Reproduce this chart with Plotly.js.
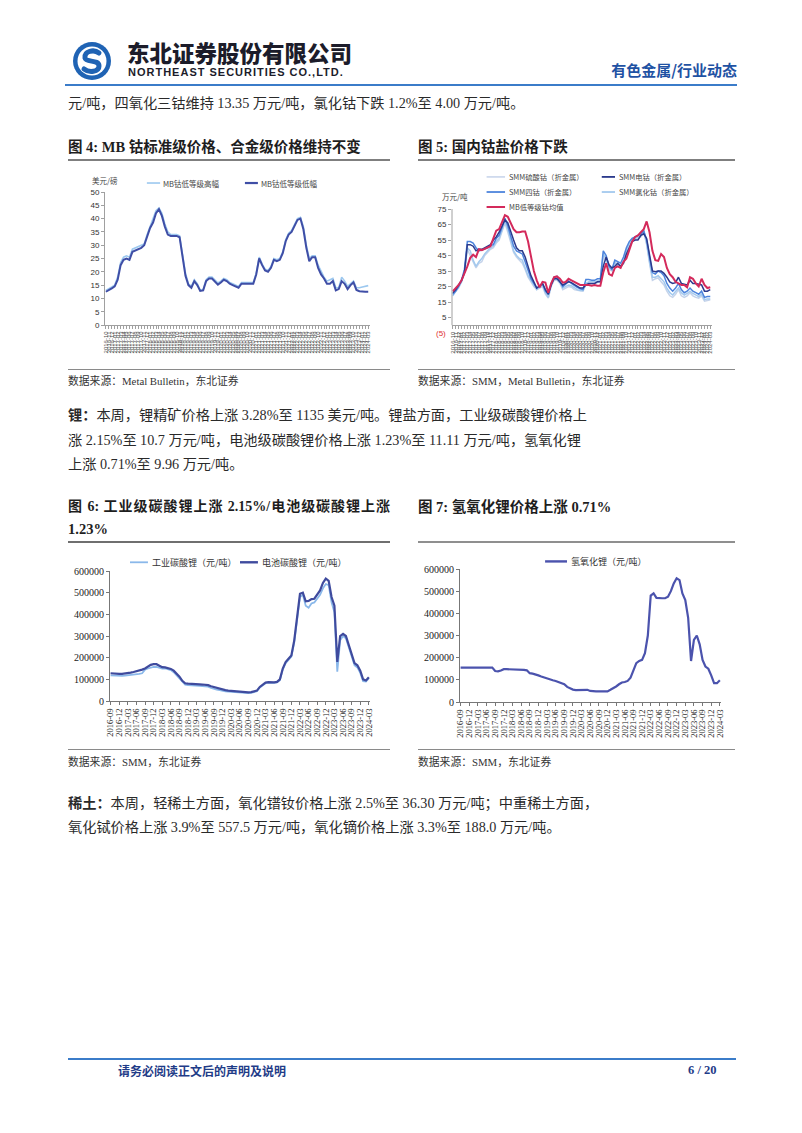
<!DOCTYPE html>
<html><head><meta charset="utf-8">
<script src="https://cdn.plot.ly/plotly-3.0.1.min.js"></script>
<style>
body{margin:0;background:#fff;}
#page{position:relative;width:802px;height:1133px;overflow:hidden;background:#fff;font-family:"Liberation Serif","Noto Sans CJK SC",serif;color:#2a2a2a;}
.t{position:absolute;white-space:nowrap;}
.rule{position:absolute;}
.para{font-size:14.2px;line-height:18px;}
.ftitle{font-size:14.5px;line-height:18px;font-weight:bold;color:#1e1e1e;}
.src{font-size:10.8px;line-height:14px;color:#333;}
.chart{position:absolute;}
</style></head>
<body><div id="page">

<svg class="t" style="left:72px;top:41px" width="40" height="40" viewBox="0 0 40 40">
  <circle cx="20" cy="20" r="19" fill="#1f63b4"/>
  <circle cx="20" cy="20" r="14.5" fill="#ffffff"/>
  <path d="M27 12 C22 8,12 10,13 17 C14 22,27 18,27 25 C27 31,17 32,12 28" stroke="#1f63b4" stroke-width="5" fill="none" stroke-linecap="round"/>
</svg>
<div class="t" style="left:127px;top:40px;font-family:'Noto Sans CJK SC';font-weight:900;font-size:22.5px;line-height:24px;color:#1c1c2a;">东北证券股份有限公司</div>
<div class="t" style="left:128px;top:66px;font-family:'Liberation Sans';font-weight:bold;font-size:11px;line-height:12px;letter-spacing:1px;color:#1c1c2a;">NORTHEAST SECURITIES CO.,LTD.</div>
<div class="t" style="right:65px;top:61px;font-family:'Noto Sans CJK SC';font-weight:bold;font-size:15px;line-height:18px;color:#1f52a3;">有色金属/行业动态</div>
<div class="rule" style="left:65px;top:84px;width:672px;height:2px;background:#3b7cc9;"></div>

<div class="t para" style="left:68px;top:94px;">元/吨，四氧化三钴维持 13.35 万元/吨，氯化钴下跌 1.2%至 4.00 万元/吨。</div>

<div class="t ftitle" style="left:68px;top:138px;">图 4:  MB 钴标准级价格、合金级价格维持不变</div>
<div class="t ftitle" style="left:418px;top:138px;">图 5:  国内钴盐价格下跌</div>
<div class="rule" style="left:68px;top:159px;width:322px;height:2px;background:#7f7f7f;"></div>
<div class="rule" style="left:418px;top:159px;width:317px;height:2px;background:#7f7f7f;"></div>

<div id="c4" class="chart" style="left:68px;top:162px;width:322px;height:206px;"></div>
<div id="c5" class="chart" style="left:418px;top:162px;width:317px;height:206px;"></div>

<div class="rule" style="left:68px;top:369px;width:322px;height:1px;background:#8a8a8a;"></div>
<div class="rule" style="left:418px;top:369px;width:317px;height:1px;background:#8a8a8a;"></div>
<div class="t src" style="left:68px;top:374px;">数据来源：Metal Bulletin，东北证券</div>
<div class="t src" style="left:418px;top:374px;">数据来源：SMM，Metal Bulletin，东北证券</div>

<div class="t para" style="left:68px;top:406px;"><b>锂：</b>本周，锂精矿价格上涨 3.28%至 1135 美元/吨。锂盐方面，工业级碳酸锂价格上</div>
<div class="t para" style="left:68px;top:431px;">涨 2.15%至 10.7 万元/吨，电池级碳酸锂价格上涨 1.23%至 11.11 万元/吨，氢氧化锂</div>
<div class="t para" style="left:68px;top:455px;">上涨 0.71%至 9.96 万元/吨。</div>

<div class="t ftitle" style="left:68px;top:498px;width:322px;text-align:justify;text-align-last:justify;font-size:14px;">图 6: 工业级碳酸锂上涨 2.15%/电池级碳酸锂上涨</div>
<div class="t ftitle" style="left:68px;top:520px;">1.23%</div>
<div class="t ftitle" style="left:418px;top:498px;">图 7:  氢氧化锂价格上涨 0.71%</div>
<div class="rule" style="left:68px;top:541px;width:322px;height:2px;background:#6f6f6f;"></div>
<div class="rule" style="left:418px;top:541px;width:317px;height:2px;background:#8f8f8f;"></div>

<div id="c6" class="chart" style="left:68px;top:543px;width:322px;height:205px;"></div>
<div id="c7" class="chart" style="left:418px;top:543px;width:317px;height:205px;"></div>

<div class="rule" style="left:68px;top:749px;width:322px;height:1px;background:#8a8a8a;"></div>
<div class="rule" style="left:418px;top:749px;width:317px;height:1px;background:#8a8a8a;"></div>
<div class="t src" style="left:68px;top:755px;">数据来源：SMM，东北证券</div>
<div class="t src" style="left:418px;top:755px;">数据来源：SMM，东北证券</div>

<div class="t para" style="left:68px;top:794px;"><b>稀土：</b>本周，轻稀土方面，氧化镨钕价格上涨 2.5%至 36.30 万元/吨；中重稀土方面，</div>
<div class="t para" style="left:68px;top:818px;">氧化铽价格上涨 3.9%至 557.5 万元/吨，氧化镝价格上涨 3.3%至 188.0 万元/吨。</div>

<div class="rule" style="left:68px;top:1058px;width:668px;height:2px;background:#3b7cc9;"></div>
<div class="t" style="left:118px;top:1063px;font-family:'Noto Sans CJK SC';font-weight:bold;font-size:12px;line-height:15px;color:#1f3c88;">请务必阅读正文后的声明及说明</div>
<div class="t" style="left:688px;top:1063px;font-family:'Liberation Serif';font-weight:bold;font-size:12.5px;line-height:15px;color:#1f3c88;">6 / 20</div>

</div>
<script>
// ---------- data ----------
function monthLabels(y, m, n){ var out=[]; for(var i=0;i<n;i++){ out.push(y+'-'+(m<10?'0'+m:m)); m++; if(m>12){m=1;y++;} } return out; }
var cobaltMonths = monthLabels(2016,10,90);
var lithiumMonths = monthLabels(2016,9,91);
var lithiumTickIdx = [];
for (var k=0;k<lithiumMonths.length;k+=3) lithiumTickIdx.push(lithiumMonths[k]);

// Fig 4: MB cobalt (USD/lb)
var mbHigh = [13,13.5,14.3,15,18,23.5,25.5,26,25.5,28.5, 29,29.5,30,30.5,34,37,39.5,43,44,42,
  38,35,34,34,34,33.5,26,19.5,15.5,14.5, 17,15.5,13,13.3,17,18,18,17,15.8,16.5,
  17.5,17,16,15.5,15,14.5,16,16,16.2,16, 16,19.5,25.5,23,21,20.5,22,25,24.5,25,
  27.5,32,34.5,35.5,38,40,40.5,37,30,25, 26,26,22.5,20,18,16.5,17,17.5,14,14,
  18,16.5,14.5,15.5,16.5,14,14,14.3,14.7,14.8];
var mbLow = [12.5,13,13.8,14.5,17,22.5,24.5,25,24.5,27.5, 28,28.5,29,30,33,36.5,38.5,42,43.5,41,
  37,34,33.5,33.5,33.5,33,25,18.5,15,14, 16.5,15,12.8,13,16.5,17.5,17.5,16.5,15.2,16,
  17,16.5,15.5,15,14.5,14,15.5,15.5,15.7,15.5, 15.5,19,25,22.5,20.5,20,21.5,24.5,24,24.5,
  27,31.5,34,35,37.5,39.5,40,36,29,24, 25.5,25.5,21.5,19,17.5,15.5,15.5,16.5,13,13.5,
  16.5,15.5,13.5,15,16,13.2,12.7,12.5,12.5,12.5];

// Fig 5: domestic cobalt salts (10k CNY/t, metal content)
var cobaltSulfate = [20,22,24,28,35,49,45,40,37,40, 41,45,47,49,50,53,55,60,66,60,
  53,47,44,42,40,36,31,28,25,23, 24,25,20,17.5,25,29,29,27,23,24,
  25,24.5,23,22.5,22,22,26,27,27,27, 27.5,28,44,42,36,35,40,38,37,41,
  47,52,55,55,56,57,60,52,40,29, 30,30.5,28,26,22,19,18,20,23,19,
  18,19,21,19,18,17.5,19,15.5,16,16.5];
var cobaltChloride = [19,22,25,28,34,50,48,42,38,41, 43,46,48,50,51,54,56,61,67,62,
  54,48,45,43,42,37,32,29,26,23, 24.5,26,21,18,26,30,30,28,24,25,
  26,25.5,24,23,22.5,22.5,27,28,28,28, 28.5,29,46,43,37,36,41,39,38,42,
  48,53,56,56,57,58,61,53,41,31, 31,32,30,28,24,21,19.5,21.5,24,21,
  19.5,20.5,22,20.5,19.5,18.5,20,16.5,17,17];
var cobaltTetroxide = [20,22,25,29,36,54,54,53,50,48, 48.5,49,50,51.5,52,56,58,63,69,64,
  57,51,48,47,46,41,35,30,27,24, 25,27,22,20,27,31,31.5,28,25,26.5,
  28.5,27,25.5,24.5,23.5,23,29.5,29.5,29,29, 30,30,48,45,38,36,42,41,40,44,
  50,54,56,57,58,59,61,55,44,34, 33,35,34,32,27,24,22,24,27,23,
  21,22,24,22,21,20,22,18,18.5,18.5];
var cobaltMetal = [21,23,26,29,34,52,52,51,48,49, 49,50,51,52,55,57,60,64,68,66,
  60,55,50,48,48,44,38,32,28,24, 25.5,27,23,20,26,30,30,28,26,27,
  28,27.5,26.5,25,24,24,26,27,27,27, 28,28,38,44,39,37,38,40,38,40,
  46,50,54,55,55,58,59,56,45,35, 34.5,35,35,33.5,31,28,27,27.5,31,27,
  26.5,26,29,27,27,26.5,26,22,22,23];
var mbAvg = [22,24,26,29,33,38,43.5,45.5,44,49, 48.5,49.5,50,51,56,61,62,67,71,70,
  66,62,60,60,60.5,60.5,54,45,35,29, 24.5,28,27.5,21,27,31,31.5,30,27.5,28,
  30,29,28,27,26,26,26,26,25.5,26, 25.5,25.5,34,40,33,32,37,38,37,41,
  43,49,54,57,58,60,62,67,60,48, 42,41.5,46,44,37,33,31,28,27,26,
  26,24.5,31,30,27,25,30,26,24,24.5];

// Fig 6: lithium carbonate (CNY/t)
var liCarbIndustrial = [118000,117000,116000,116000,116000,117000,118000,120000,122000,123000,
  125000,128000,145000,150000,155000,157000,157000,152000,150000,150000,
  148000,143000,133000,118000,100000,85000,75000,73000,73000,72000,
  71000,70000,69000,68000,66000,60000,55000,52000,50000,46000,
  44000,43000,42000,40000,38000,36000,35000,35000,36000,37000,
  40000,45000,62000,72000,82000,85000,84000,84000,86000,96000,
  145000,175000,190000,205000,270000,385000,480000,490000,440000,430000,
  450000,455000,470000,490000,520000,540000,535000,455000,410000,135000,
  280000,300000,290000,250000,200000,165000,155000,130000,92000,90000,105000];
var liCarbBattery = [128000,126000,125000,125000,125000,126000,128000,131000,134000,137000,
  140000,145000,150000,160000,167000,170000,170000,163000,156000,155000,
  153000,148000,140000,128000,112000,93000,82000,80000,80000,79000,
  78000,77000,76000,75000,73000,68000,64000,60000,56000,52000,
  50000,48000,47000,45000,43000,41000,40000,40000,40000,41000,
  43000,48000,65000,75000,85000,87000,86000,86000,88000,100000,
  150000,180000,195000,210000,280000,400000,495000,500000,460000,462000,
  470000,472000,490000,510000,545000,565000,555000,480000,440000,180000,
  300000,310000,300000,260000,210000,175000,165000,140000,100000,95000,110000];

// Fig 7: lithium hydroxide (CNY/t)
var liHydroxide = [155000,155000,155000,155000,155000,155000,155000,155000,155000,155000,
  155000,155000,140000,138000,142000,148000,148000,148000,147000,147000,
  146000,146000,145000,143000,130000,128000,125000,120000,115000,110000,
  105000,102000,98000,95000,90000,85000,80000,68000,62000,56000,
  54000,54000,55000,55000,55000,50000,48000,48000,48000,47000,
  47000,48000,55000,62000,70000,80000,88000,90000,95000,110000,
  140000,175000,185000,190000,220000,300000,480000,490000,470000,468000,
  468000,468000,475000,500000,535000,558000,550000,490000,460000,380000,
  185000,280000,300000,260000,190000,160000,150000,120000,85000,85000,98000];

// ---------- helpers ----------
var cfg = {staticPlot:true, displayModeBar:false};
var SANS = 'Liberation Sans, Arial, sans-serif';
var SERIF = 'Liberation Serif, Times New Roman, serif';
var CJK = 'Noto Sans CJK SC, sans-serif';
function legLine(x0,x1,y,color,w){ return {type:'line',xref:'paper',yref:'paper',x0:x0,x1:x1,y0:y,y1:y,line:{color:color,width:w}}; }
function legText(x,y,text,size,color){ return {xref:'paper',yref:'paper',x:x,y:y,xanchor:'left',yanchor:'middle',text:text,showarrow:false,font:{family:CJK,size:size,color:color||'#333'}}; }

// ---------- Fig 4 ----------
Plotly.newPlot('c4', [
  {type:'scatter',mode:'lines',name:'MB钴低等级高幅',x:cobaltMonths,y:mbHigh,line:{color:'#9cc8ef',width:1.6}},
  {type:'scatter',mode:'lines',name:'MB钴低等级低幅',x:cobaltMonths,y:mbLow,line:{color:'#3f4ea6',width:2}}
], {
  width:322,height:206,margin:{l:37,r:20,t:30,b:43},paper_bgcolor:'#fff',plot_bgcolor:'#fff',showlegend:false,
  xaxis:{type:'category',range:[-0.3,89.6],showline:true,linecolor:'#a0a0a0',ticks:'outside',ticklen:3,tickcolor:'#a0a0a0',
    tickmode:'array',tickvals:cobaltMonths,ticktext:cobaltMonths,tickangle:-90,tickfont:{family:SANS,size:6,color:'#555'},showgrid:false,zeroline:false},
  yaxis:{range:[0,50],tick0:0,dtick:5,showline:true,linecolor:'#a0a0a0',ticks:'outside',ticklen:3,tickcolor:'#a0a0a0',
    tickfont:{family:SANS,size:8,color:'#333'},showgrid:false,zeroline:false},
  shapes:[legLine(0.158,0.208,1.0675,'#9cc8ef',1.6),legLine(0.528,0.577,1.0675,'#3f4ea6',2.2)],
  annotations:[
    {xref:'paper',yref:'paper',x:0,y:1.083,xanchor:'center',yanchor:'middle',text:'美元/磅',showarrow:false,font:{family:CJK,size:7.5,color:'#444'}},
    legText(0.213,1.0675,'MB钴低等级高幅',7.5,'#444'),
    legText(0.583,1.0675,'MB钴低等级低幅',7.5,'#444')
  ]
}, cfg);

// ---------- Fig 5 ----------
Plotly.newPlot('c5', [
  {type:'scatter',mode:'lines',name:'SMM硫酸钴（折金属）',x:cobaltMonths,y:cobaltSulfate,line:{color:'#c5d3ea',width:1.5}},
  {type:'scatter',mode:'lines',name:'SMM氯化钴（折金属）',x:cobaltMonths,y:cobaltChloride,line:{color:'#a3c9ee',width:1.5}},
  {type:'scatter',mode:'lines',name:'SMM四钴（折金属）',x:cobaltMonths,y:cobaltTetroxide,line:{color:'#4d84dc',width:1.5}},
  {type:'scatter',mode:'lines',name:'SMM电钴（折金属）',x:cobaltMonths,y:cobaltMetal,line:{color:'#2b3a8c',width:1.5}},
  {type:'scatter',mode:'lines',name:'MB低等级钴均值',x:cobaltMonths,y:mbAvg,line:{color:'#d42a5b',width:2}}
], {
  width:317,height:206,margin:{l:34,r:23,t:47,b:35.3},paper_bgcolor:'#fff',plot_bgcolor:'#fff',showlegend:false,
  xaxis:{type:'category',range:[-0.3,89.6],anchor:'free',position:0.0625,showline:true,linecolor:'#a0a0a0',ticks:'outside',ticklen:3,tickcolor:'#a0a0a0',
    tickmode:'array',tickvals:cobaltMonths,ticktext:cobaltMonths,tickangle:-90,tickfont:{family:SANS,size:6,color:'#555'},showgrid:false,zeroline:false},
  yaxis:{range:[-5,75],tickmode:'array',tickvals:[5,15,25,35,45,55,65,75],showline:false,ticks:'outside',ticklen:3,tickcolor:'#a0a0a0',
    tickfont:{family:SANS,size:8,color:'#333'},showgrid:false,zeroline:false},
  shapes:[
    {type:'line',xref:'paper',yref:'y',x0:0,x1:0,y0:0,y1:75,line:{color:'#a0a0a0',width:1}},
    legLine(0.133,0.204,1.2587,'#c5d3ea',1.5),legLine(0.576,0.627,1.2587,'#2b3a8c',1.8),
    legLine(0.133,0.204,1.137,'#4d84dc',1.8),legLine(0.576,0.627,1.137,'#a3c9ee',1.8),
    legLine(0.133,0.204,1.016,'#d42a5b',2)
  ],
  annotations:[
    {xref:'paper',yref:'y',x:0,y:-5,xanchor:'right',yanchor:'middle',xshift:-4,text:'(5)',showarrow:false,font:{family:SANS,size:8,color:'#e0302f'}},
    {xref:'paper',yref:'paper',x:0.01,y:1.097,xanchor:'center',yanchor:'middle',text:'万元/吨',showarrow:false,font:{family:CJK,size:7.5,color:'#444'}},
    legText(0.21,1.2587,'SMM硫酸钴（折金属）',7.3,'#444'),
    legText(0.633,1.2587,'SMM电钴（折金属）',7.3,'#444'),
    legText(0.21,1.137,'SMM四钴（折金属）',7.3,'#444'),
    legText(0.633,1.137,'SMM氯化钴（折金属）',7.3,'#444'),
    legText(0.21,1.016,'MB低等级钴均值',7.3,'#444')
  ]
}, cfg);

// ---------- Fig 6 ----------
Plotly.newPlot('c6', [
  {type:'scatter',mode:'lines',name:'工业碳酸锂（元/吨）',x:lithiumMonths,y:liCarbIndustrial,line:{color:'#8ab8ea',width:1.8}},
  {type:'scatter',mode:'lines',name:'电池碳酸锂（元/吨）',x:lithiumMonths,y:liCarbBattery,line:{color:'#3f4b9e',width:2.2}}
], {
  width:322,height:205,margin:{l:42,r:20,t:27.7,b:47},paper_bgcolor:'#fff',plot_bgcolor:'#fff',showlegend:false,
  xaxis:{type:'category',range:[-0.2,90.4],showline:true,linecolor:'#777',ticks:'outside',ticklen:3,tickcolor:'#777',
    tickmode:'array',tickvals:lithiumTickIdx,ticktext:lithiumTickIdx,tickangle:-90,tickfont:{family:SERIF,size:8.5,color:'#222'},showgrid:false,zeroline:false},
  yaxis:{range:[0,600000],dtick:100000,tickformat:'d',showline:true,linecolor:'#777',ticks:'outside',ticklen:3,tickcolor:'#777',
    tickfont:{family:SERIF,size:10,color:'#222'},showgrid:false,zeroline:false},
  shapes:[legLine(0.077,0.146,1.067,'#8ab8ea',1.8),legLine(0.5,0.569,1.067,'#3f4b9e',2.4)],
  annotations:[legText(0.152,1.067,'工业碳酸锂（元/吨）',9,'#333'),legText(0.575,1.067,'电池碳酸锂（元/吨）',9,'#333')]
}, cfg);

// ---------- Fig 7 ----------
Plotly.newPlot('c7', [
  {type:'scatter',mode:'lines',name:'氢氧化锂（元/吨）',x:lithiumMonths,y:liHydroxide,line:{color:'#4b53ad',width:2.2}}
], {
  width:317,height:205,margin:{l:42,r:14,t:26.3,b:46.3},paper_bgcolor:'#fff',plot_bgcolor:'#fff',showlegend:false,
  xaxis:{type:'category',range:[-0.2,90.4],showline:true,linecolor:'#777',ticks:'outside',ticklen:3,tickcolor:'#777',
    tickmode:'array',tickvals:lithiumTickIdx,ticktext:lithiumTickIdx,tickangle:-90,tickfont:{family:SERIF,size:8.5,color:'#222'},showgrid:false,zeroline:false},
  yaxis:{range:[0,600000],dtick:100000,tickformat:'d',showline:true,linecolor:'#777',ticks:'outside',ticklen:3,tickcolor:'#777',
    tickfont:{family:SERIF,size:10,color:'#222'},showgrid:false,zeroline:false},
  shapes:[legLine(0.326,0.41,1.057,'#4b53ad',2.4)],
  annotations:[legText(0.416,1.057,'氢氧化锂（元/吨）',9,'#333')]
}, cfg);
</script>
</body></html>
